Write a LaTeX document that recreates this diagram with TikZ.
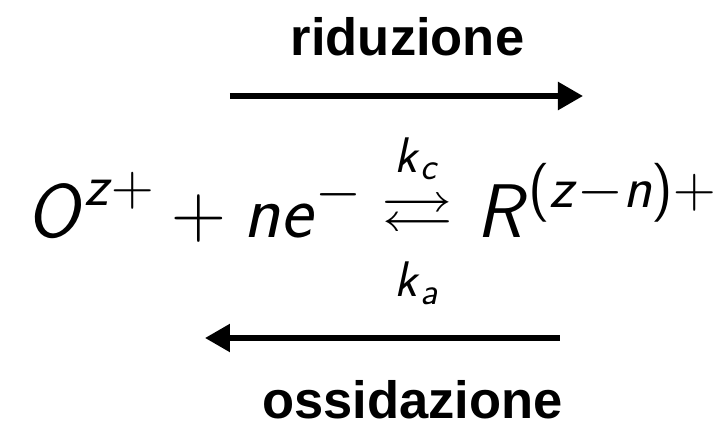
\RequirePackage{fix-cm}
\documentclass[tikz,border=0pt]{standalone}
\usepackage{amsmath,amssymb}
\usepackage{graphicx}
\usepackage{fontspec}
\newfontfamily\labelfont{Liberation Sans}
\usetikzlibrary{arrows.meta}
\DeclareMathSizes{38}{38}{29.5}{21}
\newcommand{\sv}[1]{\textsf{\slshape #1\/}}
\newcommand{\sidx}[1]{\text{\fontsize{19}{23}\selectfont\sv{#1}}}

\begin{document}
\begin{tikzpicture}[
    x=0.5pt, y=-0.5pt,
    tag/.style={font=\labelfont\bfseries\fontsize{26.25}{31}\selectfont,
                inner sep=0pt, anchor=base},
    formula/.style={font=\fontsize{38}{46}\selectfont, inner sep=0pt},
    rate/.style={font=\fontsize{25}{30}\selectfont, inner sep=0pt, anchor=base},
    flow/.style={-{Triangle[length=12.5pt, width=13.5pt]}, line width=2.7pt},
  ]
    \useasboundingbox (0,0) rectangle (720,428);

    \node[tag] (red) at (407.5,55) {riduzione};
    \coordinate (redtail) at (230,96);
    \coordinate (redtip) at (583,96);
    \draw[flow] (redtail) -- (redtip);

    % equilibrio
    \node[formula, anchor=base west] (lhs) at (26,237)
      {$\sv{O}^{\sv{z}+} + \sv{n}\sv{e}^{-}$};
    \node[formula, font=\fontsize{36}{43}\selectfont] (eq) at (417.5,217)
      {\scalebox{1}[0.81]{$\rightleftarrows$}};
    \node[formula, anchor=base west] (rhs) at (476,237)
      {$\sv{R}^{\textsf{(}\sv{z}-\sv{n}\textsf{)}+}$};
    \node[rate] (kc) at (417,172) {$\sv{k}_{\sidx{c}}$};
    \node[rate] (ka) at (417,297) {$\sv{k}_{\sidx{a}}$};

    \coordinate (oxtail) at (560,338);
    \coordinate (oxtip) at (205,338);
    \draw[flow] (oxtail) -- (oxtip);
    \node[tag] (ox) at (412.5,419) {ossidazione};
  \end{tikzpicture}
\end{document}
